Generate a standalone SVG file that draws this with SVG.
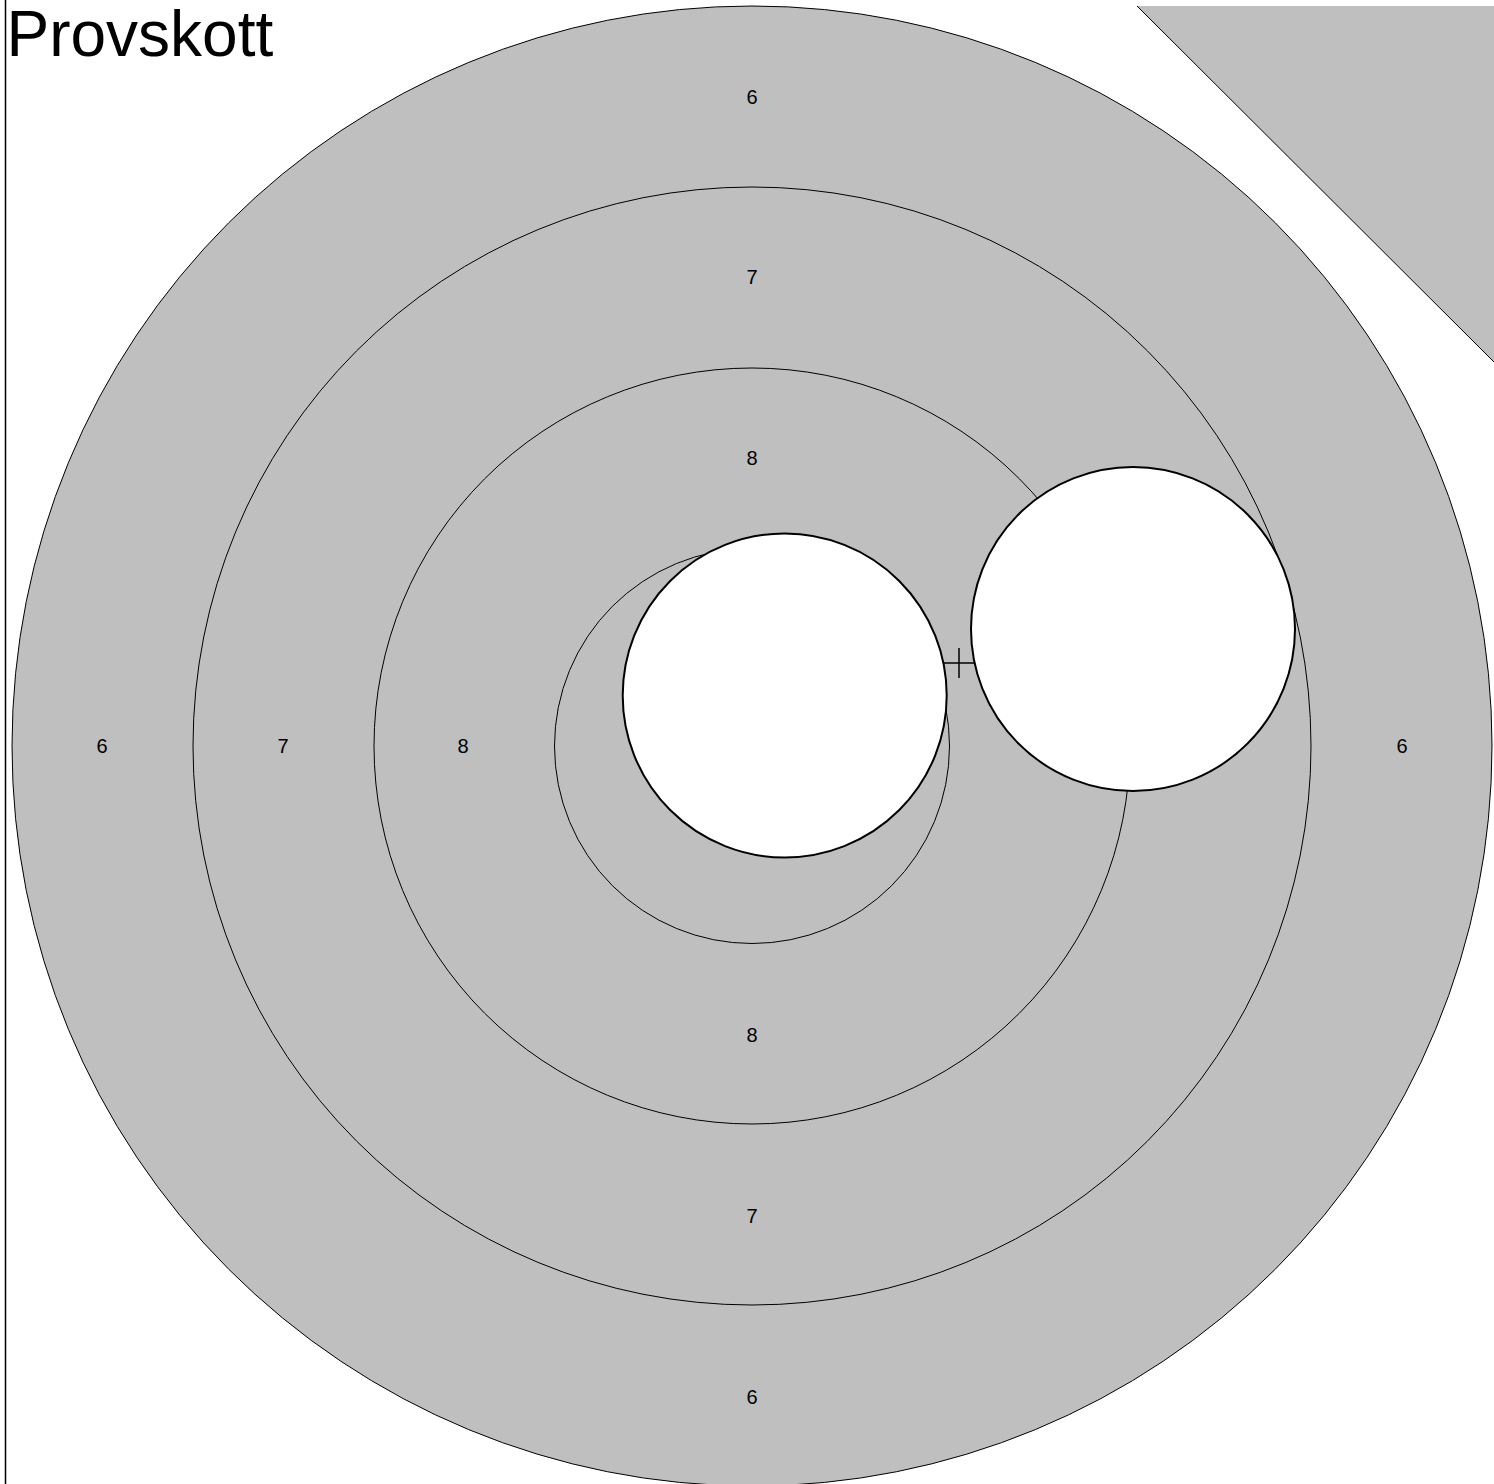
<svg xmlns="http://www.w3.org/2000/svg" width="1494" height="1484" viewBox="0 0 1494 1484">
<style>
.ring{fill:#bfbfbf;stroke:#000;stroke-width:1}
.lbl{font-family:"Liberation Sans",Arial,sans-serif;font-size:20px;fill:#000;text-anchor:middle;dominant-baseline:central}
.shot{fill:#fff;stroke:#000;stroke-width:2}
</style>
<rect width="1494" height="1484" fill="#fff"/>
<line x1="5.5" y1="0" x2="5.5" y2="1484" stroke="#000" stroke-width="1.5"/>
<g id="corner">
<polygon points="1137,6 1494,6 1494,362" fill="#bfbfbf"/>
<line x1="1137" y1="6" x2="1494" y2="362" stroke="#000" stroke-width="1"/>
</g>
<g id="target">
<circle class="ring" cx="752" cy="746" r="740"/>
<circle class="ring" cx="752" cy="746" r="559"/>
<circle class="ring" cx="752" cy="746" r="378"/>
<circle class="ring" cx="752" cy="746" r="197.5"/>
</g>
<g id="labels">
<text class="lbl" x="752" y="97">6</text>
<text class="lbl" x="752" y="277">7</text>
<text class="lbl" x="752" y="458">8</text>
<text class="lbl" x="752" y="1035">8</text>
<text class="lbl" x="752" y="1216">7</text>
<text class="lbl" x="752" y="1397">6</text>
<text class="lbl" x="102" y="746">6</text>
<text class="lbl" x="283" y="746">7</text>
<text class="lbl" x="463" y="746">8</text>
<text class="lbl" x="1402" y="746">6</text>
</g>
<g id="connectors">
<line x1="944" y1="663" x2="974" y2="663" stroke="#000" stroke-width="1.5"/>
<line x1="959" y1="648" x2="959" y2="678" stroke="#000" stroke-width="1.5"/>
</g>
<g id="shot1"><circle class="shot" cx="784.7" cy="695.5" r="162"/></g>
<g id="shot2"><circle class="shot" cx="1133" cy="629" r="162"/></g>
<text id="title" x="6.5" y="56" font-family="Liberation Sans, Arial, sans-serif" font-size="64" fill="#000">Provskott</text>
</svg>
